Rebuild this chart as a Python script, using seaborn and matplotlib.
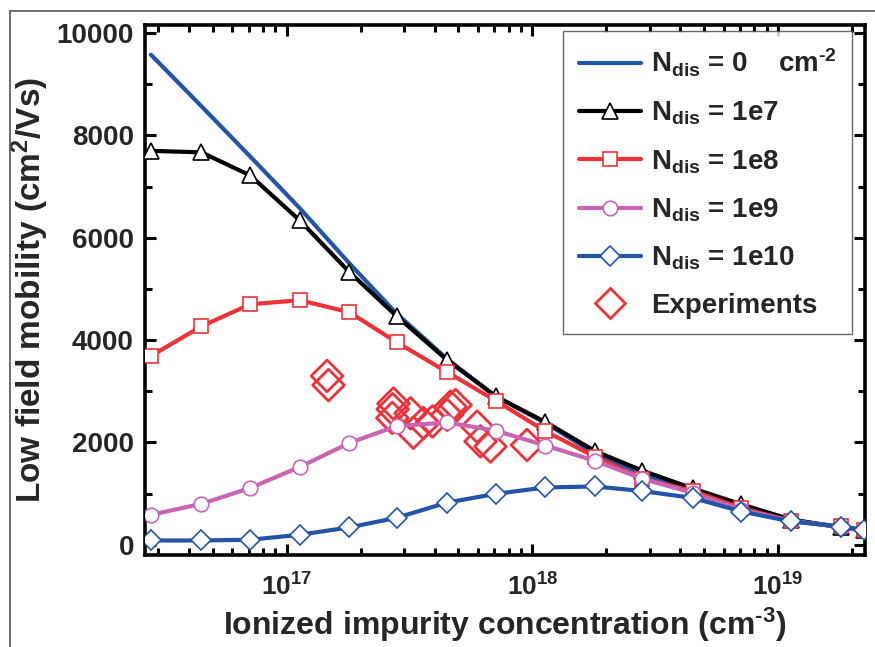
import numpy as np
import pandas as pd
import matplotlib
matplotlib.use("Agg")
import matplotlib.pyplot as plt
import seaborn as sns
from matplotlib.lines import Line2D
from matplotlib.ticker import FixedLocator, MultipleLocator, NullFormatter, LogLocator

# Ionized impurity concentration (cm^-3) at the simulated points
conc = [2.8e16, 4.5e16, 7.1e16, 1.13e17, 1.8e17, 2.8e17, 4.5e17, 7.1e17,
        1.13e18, 1.8e18, 2.8e18, 4.5e18, 7.1e18, 1.13e19, 1.8e19, 2.24e19]

# Low field mobility (cm^2/Vs) for each dislocation density
mu_n0 = [9580, 8570, 7590, 6580, 5500, 4520, 3630, 2900, 2380, 1780, 1390,
         1030, 770, 495, 340, 280]
mu_1e7 = [7700, 7670, 7220, 6340, 5330, 4470, 3610, 2900, 2400, 1830, 1450,
          1100, 790, 490, 340, 280]
mu_1e8 = [3690, 4270, 4700, 4780, 4545, 3960, 3375, 2815, 2220, 1720, 1290,
          1050, 720, 460, 360, 280]
mu_1e9 = [585, 800, 1110, 1520, 1990, 2320, 2390, 2230, 1940, 1640, 1290,
          1015, 680, 470, 345, 280]
mu_1e10 = [84, 84, 98, 195, 340, 527, 825, 995, 1120, 1140, 1050, 915,
           650, 455, 357, 293]

# Measured data
exp_conc = [1.46e17, 1.48e17, 2.72e17, 2.70e17, 2.69e17, 3.19e17, 3.28e17,
            3.60e17, 3.92e17, 4.50e17, 4.64e17, 4.87e17, 5.96e17, 6.15e17,
            6.75e17, 9.51e17]
exp_mu = [3300, 3120, 2760, 2650, 2480, 2570, 2190, 2380, 2410, 2540, 2700,
          2730, 2310, 2020, 1920, 1950]

series_names = [r"N$_{\mathbf{dis}}$ = 0    cm$^{\text{-2}}$",
                r"N$_{\mathbf{dis}}$ = 1e7",
                r"N$_{\mathbf{dis}}$ = 1e8",
                r"N$_{\mathbf{dis}}$ = 1e9",
                r"N$_{\mathbf{dis}}$ = 1e10"]
exp_name = "Experiments"

x_ticks = [1e17, 1e18, 1e19]
x_tick_labels = [r"$\mathbf{10^{17}}$", r"$\mathbf{10^{18}}$", r"$\mathbf{10^{19}}$"]
y_ticks = [0, 2000, 4000, 6000, 8000, 10000]
y_tick_labels = ["0", "2000", "4000", "6000", "8000", "10000"]

sns.set_theme(style="white")
plt.rcParams["font.family"] = ["Liberation Sans", "DejaVu Sans"]
plt.rcParams["font.weight"] = "bold"
plt.rcParams["mathtext.fontset"] = "custom"
plt.rcParams["mathtext.rm"] = "Liberation Sans:bold"
plt.rcParams["mathtext.it"] = "Liberation Sans:bold"
plt.rcParams["mathtext.bf"] = "Liberation Sans:bold"
plt.rcParams["mathtext.default"] = "rm"

blue = "#2254a8"
red = "#ec3338"
pink = "#c865b4"
styles = [
    dict(color=blue, marker=None, mec=None, z=3),
    dict(color="black", marker="^", mec="black", ms=12, z=4),
    dict(color=red, marker="s", mec=red, ms=10, z=5),
    dict(color=pink, marker="o", mec=pink, ms=10.5, z=6),
    dict(color=blue, marker="D", mec=blue, ms=10, z=7),
]

frames = []
for name, mu in zip(series_names, [mu_n0, mu_1e7, mu_1e8, mu_1e9, mu_1e10]):
    frames.append(pd.DataFrame({"conc": conc, "mu": mu, "series": name}))
df = pd.concat(frames, ignore_index=True)
df_exp = pd.DataFrame({"conc": exp_conc, "mu": exp_mu})

fig = plt.figure(figsize=(8.75, 6.47), dpi=100)
ax = fig.add_axes([0.1657, 0.1422, 0.8229, 0.8192])

# Measured points sit underneath the simulated curves
sns.scatterplot(data=df_exp, x="conc", y="mu", ax=ax, marker="D", s=260,
                facecolor="none", edgecolor=red, linewidth=2.0, zorder=2,
                legend=False)

handles = []
for name, st in zip(series_names, styles):
    sub = df[df["series"] == name]
    kw = dict(lw=3.0, color=st["color"], zorder=st["z"])
    if st["marker"] is not None:
        kw.update(marker=st["marker"], markersize=st["ms"],
                  markerfacecolor="white", markeredgecolor=st["mec"],
                  markeredgewidth=1.2)
    sns.lineplot(data=sub, x="conc", y="mu", ax=ax, estimator=None,
                 sort=True, legend=False, **kw)
    h = Line2D([], [], lw=3.0, color=st["color"])
    if st["marker"] is not None:
        h.set_marker(st["marker"])
        h.set_markersize(st["ms"])
        h.set_markerfacecolor("white")
        h.set_markeredgecolor(st["mec"])
        h.set_markeredgewidth(1.2)
    handles.append(h)
handles.append(Line2D([], [], lw=0, marker="D", markersize=15,
                      markerfacecolor="none", markeredgecolor=red,
                      markeredgewidth=2.0))

ax.set_xscale("log")
ax.set_xlim(2.65e16, 2.26e19)
ax.set_ylim(-200, 10160)

ax.xaxis.set_major_locator(FixedLocator(x_ticks))
ax.set_xticklabels(x_tick_labels)
ax.xaxis.set_minor_locator(LogLocator(base=10, subs=np.arange(2, 10)))
ax.xaxis.set_minor_formatter(NullFormatter())
ax.yaxis.set_major_locator(FixedLocator(y_ticks))
ax.set_yticklabels(y_tick_labels)
ax.yaxis.set_minor_locator(MultipleLocator(1000))

ax.tick_params(axis="both", which="both", direction="in", top=True,
               right=True, bottom=True, left=True, color="black", width=2.2)
ax.tick_params(axis="both", which="major", length=8)
ax.tick_params(axis="both", which="minor", length=5)
ax.tick_params(axis="x", which="major", pad=13, labelsize=19)
ax.tick_params(axis="y", which="major", pad=8, labelsize=20)
for lab in ax.get_xticklabels() + ax.get_yticklabels():
    lab.set_fontweight("bold")
for sp in ax.spines.values():
    sp.set_linewidth(2.6)
    sp.set_color("black")

ax.set_xlabel(r"Ionized impurity concentration (cm$^{\text{-3}}$)",
              fontsize=23, fontweight="bold", labelpad=4)
ax.set_ylabel(r"Low field mobility (cm$^{\mathbf{2}}$/Vs)",
              fontsize=24, fontweight="bold", labelpad=4)

leg = ax.legend(handles, series_names + [exp_name], loc="upper right",
                bbox_to_anchor=(0.982, 0.988), fontsize=20, frameon=True,
                fancybox=False, handlelength=2.25, handletextpad=0.35,
                labelspacing=0.75, borderpad=0.55, borderaxespad=0.0)
leg.get_frame().set_edgecolor("#444444")
leg.get_frame().set_linewidth(1.0)
for t in leg.get_texts():
    t.set_fontweight("bold")

# Thin page border on the top and left
fig.add_artist(Line2D([10 / 875, 1], [1 - 11 / 647, 1 - 11 / 647],
                      transform=fig.transFigure, color="#555555", lw=1.2))
fig.add_artist(Line2D([10 / 875, 10 / 875], [0, 1 - 11 / 647],
                      transform=fig.transFigure, color="#555555", lw=1.2))

fig.savefig("out.png", dpi=100)
